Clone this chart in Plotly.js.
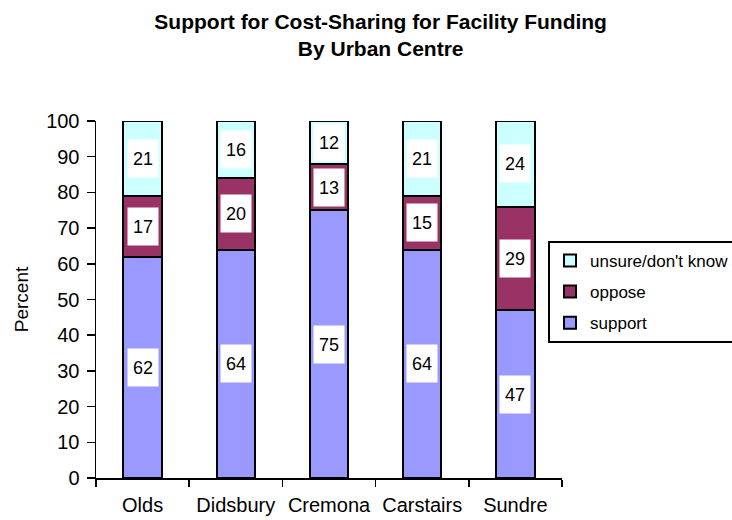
<!DOCTYPE html>
<html>
<head>
<meta charset="utf-8">
<script src="https://cdn.plot.ly/plotly-3.0.1.min.js"></script>
<style>html,body{margin:0;padding:0;background:#fff;}#chart{width:732px;height:520px;}</style>
</head>
<body>
<div id="chart"></div>
<script>
const categories = ["Olds", "Didsbury", "Cremona", "Carstairs", "Sundre"];
const support = [62, 64, 75, 64, 47];
const oppose = [17, 20, 13, 15, 29];
const unsure = [21, 16, 12, 21, 24];
const seriesNames = ["support", "oppose", "unsure/don't know"];
const yTicks = [0, 10, 20, 30, 40, 50, 60, 70, 80, 90, 100];

const font = "Liberation Sans, Arial, sans-serif";
const series = [support, oppose, unsure];
const colors = ["#9999FF", "#993366", "#CCFFFF"];

const traces = series.map((vals, i) => ({
  type: "bar",
  name: seriesNames[i],
  x: categories,
  y: vals,
  legendgroup: "g" + i,
  legendrank: 3 - i,
  marker: { color: colors[i], line: { color: "#000", width: 2 } },
  hoverinfo: "none"
}));

const annotations = [];
categories.forEach((c, ci) => {
  let base = 0;
  series.forEach((vals) => {
    const v = vals[ci];
    annotations.push({
      x: c, y: base + v / 2, xref: "x", yref: "y",
      text: String(v), showarrow: false,
      font: { family: font, size: 18, color: "#000" },
      bgcolor: "#FFFFFF", width: 30, height: 37, borderpad: 0,
      align: "center", valign: "middle"
    });
    base += v;
  });
});

const layout = {
  width: 732, height: 520,
  margin: { l: 96, r: 170, t: 121, b: 42, autoexpand: false },
  paper_bgcolor: "#fff", plot_bgcolor: "#fff",
  barmode: "stack", bargap: 0.59,
  font: { family: font, color: "#000" },
  title: {
    text: "<b>Support for Cost-Sharing for Facility Funding<br>By Urban Centre</b>",
    font: { family: font, size: 21, color: "#000" },
    x: 0.52, xanchor: "center", xref: "container",
    y: 0.945, yanchor: "top", yref: "container"
  },
  xaxis: {
    showline: true, linecolor: "#000", linewidth: 1.5,
    ticks: "outside", tickson: "boundaries", ticklen: 7, tickcolor: "#000", tickwidth: 1.5,
    tickfont: { family: font, size: 20, color: "#000" },
    ticklabelstandoff: 8,
    showgrid: false, zeroline: false, fixedrange: true
  },
  yaxis: {
    range: [0, 100], tickvals: yTicks, ticktext: yTicks.map(String),
    showline: true, linecolor: "#000", linewidth: 1.5,
    ticks: "outside", ticklen: 8, tickcolor: "#000", tickwidth: 1.5,
    tickfont: { family: font, size: 20, color: "#000" },
    ticklabelstandoff: 3,
    showgrid: false, zeroline: false,
    title: { text: "Percent", font: { family: font, size: 19, color: "#000" }, standoff: 12 }
  },
  legend: {
    x: 0.97, xanchor: "left", y: 0.664, yanchor: "top",
    traceorder: "grouped", tracegroupgap: 6,
    bordercolor: "#000", borderwidth: 2, bgcolor: "#fff",
    font: { family: font, size: 17, color: "#000" }
  },
  annotations: annotations,
  showlegend: true
};

Plotly.newPlot("chart", traces, layout, { displayModeBar: false, staticPlot: true });
</script>
</body>
</html>
